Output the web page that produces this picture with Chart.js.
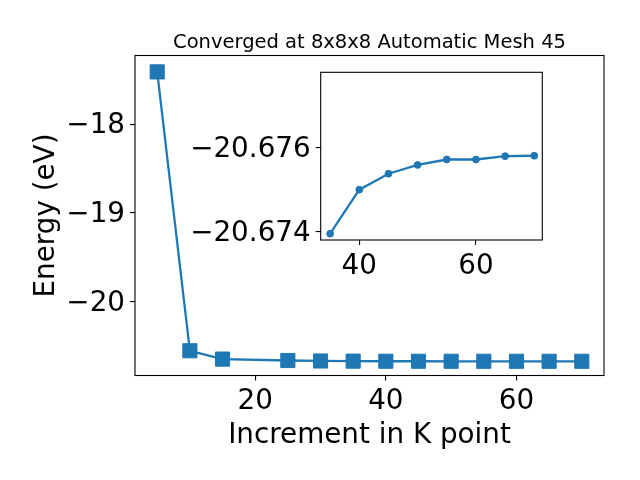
<!DOCTYPE html>
<html>
<head>
<meta charset="utf-8">
<script src="https://cdn.jsdelivr.net/npm/chart.js@4/dist/chart.umd.min.js"></script>
<style>
  html, body { margin: 0; padding: 0; background: #fff; }
  #wrap { position: relative; width: 640px; height: 480px; }
  #mainChart { position: absolute; left: 0; top: 0; }
  #insetChart { position: absolute; left: 170px; top: 42px; }
</style>
</head>
<body>
<div id="wrap">
  <canvas id="mainChart" width="640" height="480"></canvas>
  <canvas id="insetChart" width="380" height="245"></canvas>
</div>
<script>
/* ── DATA ── */
var mainK = [5, 10, 15, 25, 30, 35, 40, 45, 50, 55, 60, 65, 70];
var mainEnergy = [-17.411, -20.557, -20.651, -20.667, -20.672, -20.67395, -20.6750, -20.67538,
                  -20.67559, -20.67572, -20.67572, -20.67580, -20.67581];
var mainXTicks = [20, 40, 60];
var mainXTickLabels = ['20', '40', '60'];
var mainYTicks = [-18, -19, -20];
var mainYTickLabels = ['\u221218', '\u221219', '\u221220'];

var insetK = [35, 40, 45, 50, 55, 60, 65, 70];
var insetEnergy = [-20.67395, -20.67500, -20.67538, -20.67559, -20.67572, -20.67572, -20.67580, -20.67581];
var insetXTicks = [40, 60];
var insetXTickLabels = ['40', '60'];
var insetYTicks = [-20.676, -20.674];
var insetYTickLabels = ['\u221220.676', '\u221220.674'];

var titleText = 'Converged at 8x8x8 Automatic Mesh 45';
var xLabelText = 'Increment in K point';
var yLabelText = 'Energy (eV)';

var BLUE = '#1f77b4';
var FONT = "'DejaVu Sans', sans-serif";
var TICK_SIZE = 27.8;

function toPoints(xs, ys) {
  var pts = [];
  for (var i = 0; i < xs.length; i++) pts.push({ x: xs[i], y: ys[i] });
  return pts;
}

function fixedTicks(values) {
  return function(scale) {
    scale.ticks = values.map(function(v) { return { value: v }; });
  };
}

function labelsFrom(labels) {
  return function(value, index) { return labels[index]; };
}

function axisOpts(min, max, ticks, labels, extra) {
  var o = {
    type: 'linear',
    min: min,
    max: max,
    afterBuildTicks: fixedTicks(ticks),
    grid: { display: true, drawOnChartArea: false, drawTicks: true, tickLength: 5, color: '#000', lineWidth: 1.1 },
    border: { display: false },
    ticks: { color: '#000', padding: 5, font: { family: FONT, size: TICK_SIZE }, maxRotation: 0, autoSkip: false,
             callback: labelsFrom(labels) }
  };
  for (var k in extra) {
    if (k === 'labelOffset') o.ticks.labelOffset = extra[k];
    else o[k] = extra[k];
  }
  return o;
}

/* ── FRAME (all four spines) ── */
var framePlugin = {
  id: 'frame',
  beforeDraw: function(chart) {
    var a = chart.chartArea, ctx = chart.ctx;
    ctx.save();
    ctx.fillStyle = '#fff';
    ctx.fillRect(a.left, a.top, a.right - a.left, a.bottom - a.top);
    ctx.restore();
  },
  afterDraw: function(chart) {
    var a = chart.chartArea, ctx = chart.ctx;
    ctx.save();
    ctx.strokeStyle = '#000';
    ctx.lineWidth = 1.1;
    ctx.strokeRect(a.left, a.top, a.right - a.left, a.bottom - a.top);
    ctx.restore();
  }
};

/* ── TITLES ── */
var textPlugin = {
  id: 'texts',
  afterDraw: function(chart) {
    var a = chart.chartArea, ctx = chart.ctx;
    var cx = (a.left + a.right) / 2;
    var cy = (a.top + a.bottom) / 2;
    ctx.save();
    ctx.fillStyle = '#000';
    ctx.textAlign = 'center';
    ctx.textBaseline = 'alphabetic';
    ctx.font = '19.5px ' + FONT;
    ctx.fillText(titleText, cx, a.top - 8);
    ctx.font = TICK_SIZE + 'px ' + FONT;
    ctx.fillText(xLabelText, cx, 442.5);
    ctx.translate(53.5, cy);
    ctx.rotate(-Math.PI / 2);
    ctx.fillText(yLabelText, 0, 0);
    ctx.restore();
  }
};

/* ── MAIN CHART ── */
new Chart(document.getElementById('mainChart').getContext('2d'), {
  type: 'line',
  data: {
    datasets: [{
      data: toPoints(mainK, mainEnergy),
      borderColor: BLUE,
      backgroundColor: BLUE,
      borderWidth: 2.3,
      pointStyle: 'rect',
      pointRadius: 10,
      pointBorderWidth: 1,
      pointBorderColor: BLUE,
      pointBackgroundColor: BLUE,
      fill: false,
      tension: 0
    }]
  },
  options: {
    responsive: false,
    animation: false,
    devicePixelRatio: 1,
    layout: { padding: { left: 0, top: 55.5, right: 36, bottom: 0 } },
    plugins: { legend: { display: false }, tooltip: { enabled: false }, title: { display: false } },
    scales: {
      x: axisOpts(1.6, 73.4, mainXTicks, mainXTickLabels, {
        position: 'bottom',
        afterFit: function(s) { s.height = 104.5; }
      }),
      y: axisOpts(-20.836, -17.226, mainYTicks, mainYTickLabels, {
        position: 'left',
        labelOffset: 2,
        afterFit: function(s) { s.width = 135; }
      })
    }
  },
  plugins: [framePlugin, textPlugin]
});

/* ── INSET CHART ── */
new Chart(document.getElementById('insetChart').getContext('2d'), {
  type: 'line',
  data: {
    datasets: [{
      data: toPoints(insetK, insetEnergy),
      borderColor: BLUE,
      backgroundColor: BLUE,
      borderWidth: 2.3,
      pointStyle: 'circle',
      pointRadius: 3.4,
      pointBorderWidth: 1,
      pointBorderColor: BLUE,
      pointBackgroundColor: BLUE,
      fill: false,
      tension: 0
    }]
  },
  options: {
    responsive: false,
    animation: false,
    devicePixelRatio: 1,
    layout: { padding: { left: 0, top: 30.3, right: 7.7, bottom: 0 } },
    plugins: { legend: { display: false }, tooltip: { enabled: false }, title: { display: false } },
    scales: {
      x: axisOpts(33.38, 71.38, insetXTicks, insetXTickLabels, {
        position: 'bottom',
        afterFit: function(s) { s.height = 47; }
      }),
      y: axisOpts(-20.6778, -20.6738, insetYTicks, insetYTickLabels, {
        position: 'left',
        reverse: true,
        labelOffset: 2,
        afterFit: function(s) { s.width = 150.7; }
      })
    }
  },
  plugins: [framePlugin]
});
</script>
</body>
</html>
